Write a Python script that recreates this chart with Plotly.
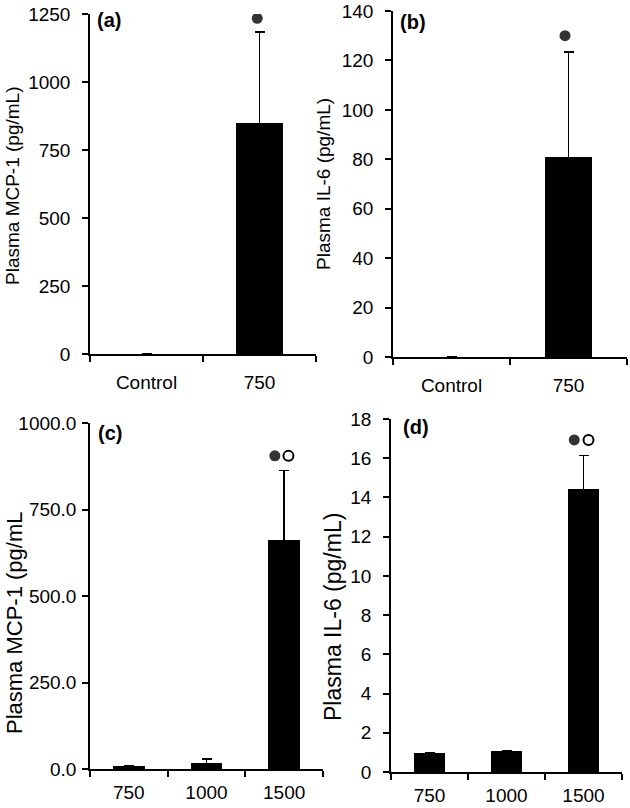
import plotly.graph_objects as go

# ---------------- data ----------------
cats_top = ["Control", "750"]
mcp1_top_mean = [0, 849]
mcp1_top_err = [None, 334]
mcp1_top_sig_filled = [None, 1234]

il6_top_mean = [0, 81]
il6_top_err = [None, 42.5]
il6_top_sig_filled = [None, 130]

cats_bot = ["750", "1000", "1500"]
mcp1_bot_mean = [9, 18, 662]
mcp1_bot_err = [None, 11, 201]
mcp1_bot_sig = [None, None, 905]

il6_bot_mean = [0.97, 1.07, 14.43]
il6_bot_err = [None, None, 1.72]
il6_bot_sig = [None, None, 16.93]

W, H = 630, 808
FONT = "Liberation Sans, Arial, sans-serif"

fig = go.Figure()

panels = [
    dict(ax="", cats=cats_top, mean=mcp1_top_mean, err=mcp1_top_err, sigf=mcp1_top_sig_filled, sigo=None,
         xd=(90, 316), yd=(14, 354), yr=[0, 1250], dt=250, fmt="d", tf=19, xtf=19, xso=5, yso=8,
         title="Plasma MCP-1 (pg/mL)", ttf=19, tpos=(12, 186), lab="(a)", lpos=(95, 20), off=(-0.02, 0)),
    dict(ax="2", cats=cats_top, mean=il6_top_mean, err=il6_top_err, sigf=il6_top_sig_filled, sigo=None,
         xd=(393, 627), yd=(11, 357), yr=[0, 140], dt=20, fmt="d", tf=19, xso=5, xtf=19, yso=8,
         title="Plasma IL-6 (pg/mL)", ttf=19, tpos=(324, 184), lab="(b)", lpos=(398, 22), off=(-0.03, 0)),
    dict(ax="3", cats=cats_bot, mean=mcp1_bot_mean, err=mcp1_bot_err, sigf=mcp1_bot_sig, sigo=mcp1_bot_sig,
         xd=(90, 323), yd=(423, 769), yr=[0, 1000], dt=250, fmt=".1f", tf=19, xtf=19, xso=0, yso=2,
         title="Plasma MCP-1 (pg/mL", ttf=22, tpos=(14, 623), lab="(c)", lpos=(96, 433), off=(-0.12, 0.055)),
    dict(ax="4", cats=cats_bot, mean=il6_bot_mean, err=il6_bot_err, sigf=il6_bot_sig, sigo=il6_bot_sig,
         xd=(391, 622), yd=(419, 772), yr=[0, 18], dt=2, fmt="d", tf=19, xtf=19, xso=0, yso=8,
         title="Plasma IL-6 (pg/mL)", ttf=23, tpos=(333, 617), lab="(d)", lpos=(401, 427), off=(-0.12, 0.065)),
]

annotations = []
for p in panels:
    n = len(p["cats"])
    xs = list(range(n))
    xa = "x" + p["ax"]
    ya = "y" + p["ax"]
    fig.add_trace(go.Bar(
        x=xs, y=p["mean"], width=0.41, marker=dict(color="black", line=dict(width=0)),
        error_y=dict(type="data", array=p["err"], symmetric=True,
                     color="black", thickness=1.5, width=5),
        xaxis=xa, yaxis=ya, showlegend=False, hoverinfo="skip"))
    fx = [x + p["off"][0] for x in xs]
    fig.add_trace(go.Scatter(
        x=fx, y=p["sigf"], mode="markers",
        marker=dict(symbol="circle", size=11, color="#333333", line=dict(width=0)),
        xaxis=xa, yaxis=ya, showlegend=False, hoverinfo="skip"))
    if p["sigo"] is not None:
        ox = [x + p["off"][1] for x in xs]
        fig.add_trace(go.Scatter(
            x=ox, y=p["sigo"], mode="markers",
            marker=dict(symbol="circle", size=10, color="white", line=dict(width=2, color="black")),
            xaxis=xa, yaxis=ya, showlegend=False, hoverinfo="skip"))

    xkey = "xaxis" + p["ax"]
    ykey = "yaxis" + p["ax"]
    fig.layout[xkey] = dict(
        domain=[p["xd"][0] / W, p["xd"][1] / W], anchor=ya, range=[-0.5, n - 0.5],
        tickmode="array", tickvals=xs, ticktext=p["cats"], automargin=False,
        ticks="outside", ticklen=5, tickcolor="rgba(0,0,0,0)", ticklabelstandoff=p["xso"],
        minor=dict(ticks="outside", ticklen=6, tickwidth=1.5, tickcolor="black", tick0=-0.5, dtick=1),
        showline=True, linecolor="black", linewidth=1.5, showgrid=False, zeroline=False,
        tickfont=dict(family=FONT, size=p["xtf"], color="black"), fixedrange=True)
    fig.layout[ykey] = dict(
        domain=[1 - p["yd"][1] / H, 1 - p["yd"][0] / H], anchor=xa, range=p["yr"], automargin=False,
        tickmode="linear", tick0=0, dtick=p["dt"], tickformat=p["fmt"],
        ticks="outside", ticklen=6, tickwidth=1.5, tickcolor="black", ticklabelstandoff=p["yso"],
        showline=True, linecolor="black", linewidth=1.5, showgrid=False, zeroline=False,
        tickfont=dict(family=FONT, size=p["tf"], color="black"), fixedrange=True)

    annotations.append(dict(
        text=p["title"], x=p["tpos"][0] / W, y=1 - p["tpos"][1] / H, xref="paper", yref="paper",
        xanchor="center", yanchor="middle", textangle=-90, showarrow=False,
        font=dict(family=FONT, size=p["ttf"], color="black")))
    annotations.append(dict(
        text="<b>" + p["lab"] + "</b>", x=p["lpos"][0] / W, y=1 - p["lpos"][1] / H,
        xref="paper", yref="paper", xanchor="left", yanchor="middle", showarrow=False,
        font=dict(family=FONT, size=20, color="black")))

fig.update_layout(
    width=W, height=H, margin=dict(l=0, r=0, t=0, b=0, autoexpand=False),
    paper_bgcolor="white", plot_bgcolor="white",
    annotations=annotations, showlegend=False, bargap=0,
)

fig.write_html("out.html", config={"displayModeBar": False},
               post_script="document.body.style.margin='0';document.body.style.padding='0';")
